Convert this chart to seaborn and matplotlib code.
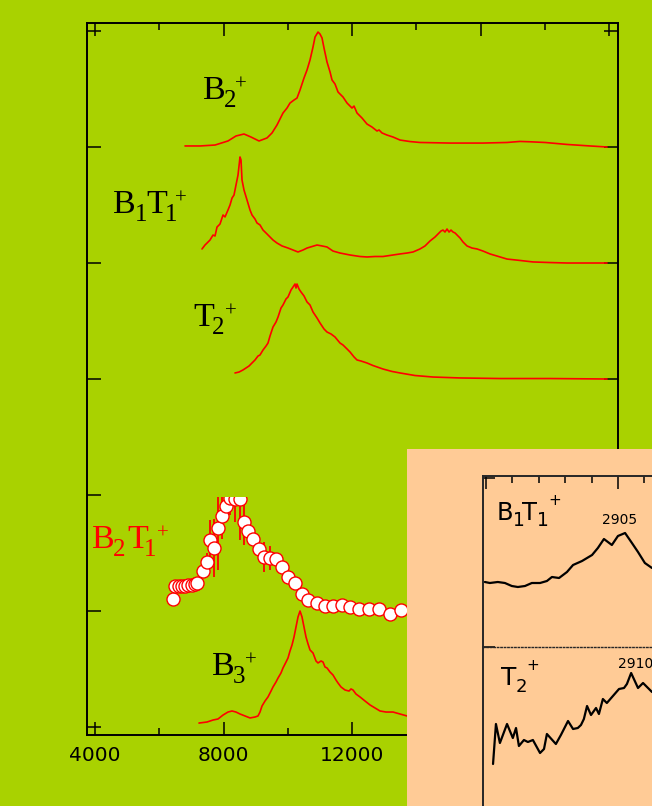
import numpy as np
import matplotlib
matplotlib.use("Agg")
import matplotlib.pyplot as plt
import seaborn as sns
from matplotlib.patches import Rectangle

# ---------------------------------------------------------------- data
# photodissociation spectra (wavenumber / cm-1, normalised intensity)
b2_x = [6802, 7269, 7736, 8140, 8389, 8638, 8856, 9105, 9354, 9510,
        9666, 9852, 9977, 10070, 10195, 10288, 10382, 10506, 10600, 10693,
        10786, 10849, 10942, 11004, 11067, 11129, 11222, 11316, 11378, 11471,
        11565, 11658, 11720, 11845, 12000, 12063, 12156, 12311, 12467, 12623,
        12779, 12841, 12934, 13090, 13277, 13495, 13806, 14117, 15051, 16078,
        16826, 17230, 17542, 18009, 18693, 19409, 19938]
b2_y = [0.009, 0.009, 0.017, 0.052, 0.095, 0.112, 0.086, 0.052, 0.078, 0.121,
        0.190, 0.293, 0.336, 0.379, 0.405, 0.422, 0.491, 0.595, 0.664, 0.750,
        0.862, 0.948, 0.991, 0.974, 0.940, 0.853, 0.733, 0.647, 0.578, 0.543,
        0.474, 0.448, 0.431, 0.379, 0.336, 0.353, 0.293, 0.250, 0.198, 0.172,
        0.138, 0.147, 0.121, 0.103, 0.086, 0.060, 0.047, 0.039, 0.034, 0.034,
        0.039, 0.048, 0.045, 0.039, 0.022, 0.009, 0.0]

b1t1_x = [7331, 7424, 7487, 7580, 7673, 7736, 7798, 7891, 7985, 8047,
          8140, 8203, 8265, 8327, 8389, 8452, 8514, 8545, 8576, 8638,
          8732, 8825, 8887, 8981, 9043, 9136, 9230, 9323, 9448, 9541,
          9666, 9821, 10008, 10164, 10319, 10475, 10600, 10755, 10911, 11067,
          11222, 11409, 11627, 11938, 12249, 12467, 12716, 12965, 13277, 13495,
          13713, 13900, 14117, 14273, 14429, 14584, 14677, 14771, 14833, 14895,
          14958, 15020, 15082, 15144, 15207, 15300, 15362, 15456, 15580, 15736,
          15892, 16078, 16296, 16514, 16826, 17230, 17635, 18164, 18693, 19938]
b1t1_y = [0.121, 0.155, 0.172, 0.198, 0.241, 0.233, 0.310, 0.336, 0.414, 0.397,
          0.457, 0.500, 0.560, 0.586, 0.672, 0.759, 0.914, 0.888, 0.716, 0.629,
          0.543, 0.457, 0.414, 0.379, 0.345, 0.328, 0.284, 0.259, 0.224, 0.198,
          0.172, 0.147, 0.129, 0.112, 0.095, 0.112, 0.129, 0.142, 0.155, 0.147,
          0.138, 0.103, 0.086, 0.069, 0.056, 0.052, 0.056, 0.056, 0.069, 0.078,
          0.086, 0.095, 0.121, 0.147, 0.190, 0.224, 0.250, 0.276, 0.284, 0.267,
          0.293, 0.267, 0.284, 0.267, 0.259, 0.233, 0.216, 0.181, 0.147, 0.129,
          0.121, 0.103, 0.078, 0.060, 0.034, 0.022, 0.009, 0.004, 0.0, 0.0]

t2_x = [8358, 8483, 8607, 8701, 8794, 8887, 8981, 9074, 9136, 9230,
        9323, 9385, 9448, 9541, 9634, 9697, 9790, 9852, 9946, 10008,
        10101, 10164, 10226, 10257, 10288, 10350, 10413, 10506, 10600, 10693,
        10786, 10911, 11004, 11129, 11222, 11347, 11471, 11627, 11720, 11845,
        11938, 12063, 12156, 12280, 12467, 12654, 12965, 13246, 13495, 13962,
        14522, 15362, 16607, 18164, 19938]
t2_y = [0.052, 0.060, 0.078, 0.095, 0.112, 0.138, 0.164, 0.198, 0.207, 0.250,
        0.284, 0.310, 0.371, 0.448, 0.491, 0.534, 0.612, 0.638, 0.690, 0.707,
        0.767, 0.793, 0.819, 0.784, 0.819, 0.776, 0.750, 0.716, 0.664, 0.638,
        0.578, 0.526, 0.483, 0.431, 0.405, 0.388, 0.362, 0.310, 0.293, 0.259,
        0.233, 0.190, 0.164, 0.155, 0.138, 0.116, 0.086, 0.065, 0.052, 0.030,
        0.017, 0.009, 0.004, 0.004, 0.0]

b2t1_x = [6428, 6490, 6615, 6708, 6802, 6895, 7020, 7113, 7175, 7362,
          7487, 7580, 7705, 7829, 7954, 8078, 8203, 8358, 8514, 8638,
          8763, 8918, 9105, 9261, 9448, 9634, 9821, 10008, 10226, 10444,
          10631, 10911, 11160, 11409, 11689, 11938, 12218, 12530, 12841, 13184,
          13526]
b2t1_y = [0.103, 0.216, 0.216, 0.216, 0.216, 0.224, 0.224, 0.233, 0.241, 0.345,
          0.422, 0.612, 0.543, 0.716, 0.819, 0.905, 0.974, 0.966, 0.966, 0.767,
          0.690, 0.621, 0.534, 0.466, 0.457, 0.448, 0.379, 0.293, 0.241, 0.147,
          0.095, 0.069, 0.043, 0.043, 0.052, 0.034, 0.017, 0.017, 0.017, -0.026,
          0.009]
b2t1_err = [0, 0, 0, 0, 0, 0, 0, 0, 0, 0.05,
            0.08, 0.17, 0.25, 0.36, 0.20, 0.12, 0.15, 0.20, 0.35, 0.20,
            0.10, 0, 0, 0.13, 0.10, 0.05, 0, 0, 0, 0,
            0, 0, 0, 0, 0, 0, 0, 0, 0, 0,
            0]

b3_x = [7237, 7487, 7673, 7829, 7985, 8140, 8265, 8389, 8514, 8670,
        8825, 8981, 9074, 9136, 9199, 9292, 9385, 9479, 9541, 9634,
        9697, 9790, 9852, 9946, 10008, 10070, 10133, 10195, 10257, 10319,
        10382, 10444, 10506, 10568, 10631, 10693, 10786, 10880, 10942, 11036,
        11098, 11160, 11222, 11316, 11409, 11502, 11565, 11658, 11782, 11907,
        11969, 12031, 12125, 12249, 12405, 12561, 12716, 12872, 13059, 13277,
        13495, 13713]
b3_y = [0.034, 0.043, 0.060, 0.069, 0.103, 0.129, 0.138, 0.129, 0.112, 0.095,
        0.078, 0.086, 0.095, 0.129, 0.181, 0.224, 0.259, 0.310, 0.345, 0.388,
        0.422, 0.466, 0.509, 0.560, 0.595, 0.655, 0.707, 0.776, 0.862, 0.948,
        1.0, 0.948, 0.862, 0.776, 0.716, 0.664, 0.638, 0.569, 0.552, 0.569,
        0.560, 0.517, 0.509, 0.474, 0.448, 0.405, 0.379, 0.345, 0.319, 0.310,
        0.328, 0.319, 0.284, 0.259, 0.224, 0.190, 0.164, 0.138, 0.129, 0.129,
        0.112, 0.095]

# vertical offsets of the stacked traces
offsets = {"B2": 5, "B1T1": 4, "T2": 3, "B2T1": 1, "B3": 0}

# C-H stretch region (inset)
ir_b1t1_x = [2854.6, 2856.5, 2859.5, 2862.2, 2864.8, 2867.1, 2869.8, 2872.4,
             2875.5, 2878.1, 2880.0, 2882.7, 2885.7, 2888.0, 2891.4, 2895.2,
             2897.4, 2899.7, 2902.7, 2905.0, 2907.7, 2910.3, 2912.6, 2915.2,
             2917.9]
ir_b1t1_y = [0.65, 0.64, 0.65, 0.64, 0.61, 0.60, 0.61, 0.64, 0.64, 0.66,
             0.70, 0.69, 0.75, 0.82, 0.86, 0.92, 0.99, 1.08, 1.02, 1.11,
             1.14, 1.04, 0.95, 0.84, 0.79]
ir_t2_x = [2857.7, 2858.8, 2860.3, 2863.0, 2865.2, 2866.4, 2867.5, 2869.4,
           2870.9, 2872.8, 2875.5, 2877.0, 2878.1, 2881.5, 2883.4, 2886.1,
           2888.0, 2889.8, 2891.0, 2892.1, 2893.3, 2894.8, 2896.7, 2897.8,
           2899.3, 2900.8, 2903.1, 2905.4, 2907.3, 2908.4, 2910.0, 2912.6,
           2914.5, 2917.9]
ir_t2_y = [0.54, 0.94, 0.75, 0.94, 0.80, 0.90, 0.72, 0.78, 0.76, 0.78,
           0.65, 0.69, 0.84, 0.74, 0.83, 0.97, 0.89, 0.90, 0.93, 0.99,
           1.12, 1.03, 1.10, 1.04, 1.19, 1.15, 1.22, 1.29, 1.30, 1.34,
           1.45, 1.30, 1.35, 1.26]
ir_peaks = [2905, 2910]

main_xticks = [4000, 8000, 12000, 16000, 20000]

# ---------------------------------------------------------------- style
GREEN = "#a9d200"
PEACH = "#ffcb96"
RED = "#ff0000"

sns.set_theme(style="ticks")
plt.rcParams["font.family"] = ["DejaVu Sans"]
plt.rcParams["axes.linewidth"] = 1.4

fig = plt.figure(figsize=(6.52, 8.06), dpi=100, facecolor=GREEN)
W, H = 652, 806
PX = 72 / fig.dpi  # points per pixel

ax = fig.add_axes([87 / W, 71 / H, 531 / W, 712 / H])
ax.set_facecolor(GREEN)
for sp in ax.spines.values():
    sp.set_color("black")
    sp.set_linewidth(1.4)

XMIN, XMAX, YMIN, YMAX = 3751, 20280, -0.069, 6.069

# stacked traces
for name, xs, ys in [("B2", b2_x, b2_y), ("B1T1", b1t1_x, b1t1_y),
                     ("T2", t2_x, t2_y), ("B3", b3_x, b3_y)]:
    sns.lineplot(x=np.array(xs), y=np.array(ys) + offsets[name], ax=ax,
                 color=RED, linewidth=1.2, estimator=None, sort=False)

# B2T1+ : points with error bars, cut off at the next baseline
bx = np.array(b2t1_x)
by = np.array(b2t1_y) + offsets["B2T1"]
be = np.array(b2t1_err)
m = be > 0
ax.set_xlim(XMIN, XMAX)
ax.set_ylim(YMIN, YMAX)
clip = Rectangle((XMIN, YMIN), XMAX - XMIN, 1.983 - YMIN,
                 transform=ax.transData)
eb = ax.vlines(bx[m], by[m] - be[m], by[m] + be[m], color=RED,
               linewidth=1.3, zorder=2)
eb.set_clip_path(clip)
n_before = len(ax.collections)
sns.scatterplot(x=bx, y=by, ax=ax, s=88, color="white", edgecolor=RED,
                linewidth=1.0, zorder=3)
for coll in ax.collections[n_before:]:
    coll.set_clip_path(clip)

ax.set_xlim(XMIN, XMAX)
ax.set_ylim(YMIN, YMAX)
ax.set_xticks(main_xticks)
ax.set_xticklabels([str(v) for v in main_xticks])
ax.set_xticks([6000, 10000, 14000, 18000], minor=True)
ax.set_yticks(range(7))
ax.tick_params(which="both", direction="in", top=True, right=True,
               width=1.1, color="black", labelleft=False)
ax.tick_params(axis="x", which="major", length=9.5, labelsize=14.5,
               pad=8, labelcolor="black")
ax.tick_params(axis="x", which="minor", length=5)
ax.tick_params(axis="y", which="major", length=10)
ax.set_xlabel("")
ax.set_ylabel("")


def draw_label(a, x, y, parts, color, family):
    """Write a label piece by piece: (text, size_pt, dx_px, dy_pt)."""
    for s, size, dx, dy in parts:
        a.annotate(s, xy=(x, y), xycoords="data", xytext=(dx * PX, dy),
                   textcoords="offset points", fontsize=size, color=color,
                   family=family, ha="left", va="baseline",
                   annotation_clip=False, zorder=6)


SERIF = ["Liberation Serif", "DejaVu Serif"]
BIG, SUB, SUP = 24.5, 18, 15
DROP, RISE = -5.8, 6.7


def serif_label(a, x, y, tokens, color="black"):
    parts = []
    for kind, s, dx in tokens:
        if kind == "n":
            parts.append((s, BIG, dx, 0))
        elif kind == "s":
            parts.append((s, SUB, dx, DROP))
        else:
            parts.append((s, SUP, dx, RISE))
    draw_label(a, x, y, parts, color, SERIF)


serif_label(ax, 7362, 5.414, [("n", "B", 0), ("s", "2", 21), ("p", "+", 32)])
serif_label(ax, 4560, 4.431, [("n", "B", 0), ("s", "1", 22), ("n", "T", 33),
                              ("s", "1", 52), ("p", "+", 62)])
serif_label(ax, 7051, 3.457, [("n", "T", 0), ("s", "2", 19), ("p", "+", 32)])
serif_label(ax, 3907, 1.543, [("n", "B", 0), ("s", "2", 21), ("n", "T", 35),
                              ("s", "1", 52), ("p", "+", 65)], RED)
serif_label(ax, 7642, 0.448, [("n", "B", 0), ("s", "3", 21), ("p", "+", 33)])

# ---------------------------------------------------------------- inset
bg = fig.add_axes([407 / W, 0, 245 / W, 357 / H])
bg.set_facecolor(PEACH)
bg.set_xticks([])
bg.set_yticks([])
for sp in bg.spines.values():
    sp.set_visible(False)

XL = (2853.9, 2917.9)
ins1 = fig.add_axes([483 / W, 159 / H, 169 / W, 171 / H])
ins2 = fig.add_axes([483 / W, -12 / H, 169 / W, 171 / H])
for a in (ins1, ins2):
    a.set_facecolor("none")
    a.spines["right"].set_visible(False)
    a.spines["bottom"].set_visible(False)
    a.spines["left"].set_linewidth(1.4)

sns.lineplot(x=ir_b1t1_x, y=ir_b1t1_y, ax=ins1, color="black",
             linewidth=1.6, estimator=None, sort=False)
sns.lineplot(x=ir_t2_x, y=ir_t2_y, ax=ins2, color="black",
             linewidth=1.6, estimator=None, sort=False)
for a in (ins1, ins2):
    a.set_xlim(*XL)
    a.set_ylim(0, 1.71)
    a.set_xlabel("")
    a.set_ylabel("")

ins1.spines["top"].set_linewidth(1.4)
ins1.set_xticks([2855, 2905])
ins1.set_xticks([2865, 2875, 2885, 2895, 2915], minor=True)
ins1.set_yticks([1.69])
ins1.tick_params(which="both", direction="in", top=True, bottom=False,
                 left=True, right=False, labeltop=False, labelbottom=False,
                 labelleft=False, width=1.1, color="black")
ins1.tick_params(axis="x", which="major", length=9.5)
ins1.tick_params(axis="x", which="minor", length=5)
ins1.tick_params(axis="y", which="major", length=8.6)

ins2.spines["top"].set_linestyle((0, (1, 1.5)))
ins2.spines["top"].set_linewidth(1.0)
ins2.set_xticks([])
ins2.set_yticks([1.71])
ins2.tick_params(axis="y", direction="in", left=True, right=False,
                 labelleft=False, length=8.6, width=1.1, color="black")

SANS = ["DejaVu Sans"]
draw_label(ins1, 2859.2, 1.27,
           [("B", 17.5, 0, 0), ("1", 13.5, 16, -4.3), ("T", 17.5, 25, 0),
            ("1", 13.5, 40, -4.3), ("+", 11, 51, 10.5)], "black", SANS)
draw_label(ins2, 2860.7, 1.33,
           [("T", 18, 0, 0), ("2", 13, 15, -5), ("+", 11, 25, 10.5)],
           "black", SANS)

i1 = ir_b1t1_x.index(2905.0)
ins1.annotate(str(ir_peaks[0]), xy=(ir_peaks[0], ir_b1t1_y[i1]),
              xytext=(1, 8.6), textcoords="offset points", ha="center",
              va="baseline", fontsize=10, color="black",
              annotation_clip=False)
i2 = ir_t2_x.index(2910.0)
ins2.annotate(str(ir_peaks[1]), xy=(ir_peaks[1], ir_t2_y[i2]),
              xytext=(3, 3.6), textcoords="offset points", ha="center",
              va="baseline", fontsize=10, color="black",
              annotation_clip=False)

fig.savefig("out.png", dpi=100, facecolor=GREEN)
